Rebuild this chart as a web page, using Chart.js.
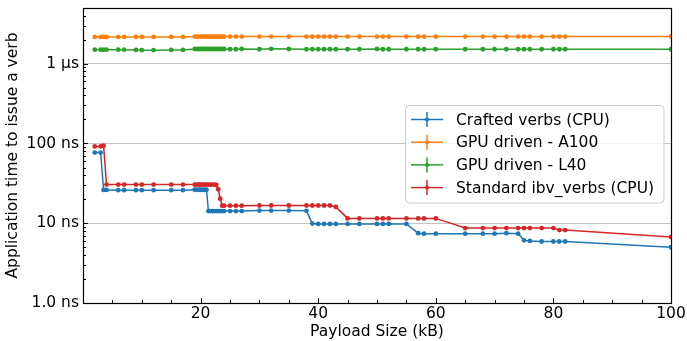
<!DOCTYPE html>
<html>
<head>
<meta charset="utf-8">
<script src="https://cdn.jsdelivr.net/npm/chart.js@4/dist/chart.umd.min.js"></script>
<style>
  html, body { margin: 0; padding: 0; background: #ffffff; }
  #wrap { width: 687px; height: 341px; }
</style>
</head>
<body>
<div id="wrap"><canvas id="chart" width="687" height="341"></canvas></div>
<script>
// Payload sizes (kB) shared by every series
const payloadKB = [2, 3, 3.5, 4, 6, 7, 9, 10, 12, 15, 17,
  19, 19.33, 19.67, 20, 20.33, 20.67, 21, 21.33, 21.67, 22, 22.33, 22.67, 23, 23.33, 23.67, 24,
  25, 26, 27, 30, 32, 35, 38,
  39, 40, 41, 42, 43, 45, 47, 50, 51, 52, 55, 57, 58, 60,
  65, 68, 70, 72, 74, 75, 76, 78, 80, 81, 82,
  100];

// Time to issue one verb, in ns
const craftedNs = [77, 77, 26.2, 26.2, 26, 26, 26, 26, 26, 26, 26,
  26.3, 26.3, 26.3, 26.3, 26.3, 26.3, 26.3, 14.2, 14.2, 14.2, 14.2, 14.2, 14.2, 14.2, 14.2, 14.2,
  14.2, 14.2, 14.2, 14.4, 14.4, 14.4, 14.3,
  9.9, 9.8, 9.8, 9.8, 9.8, 9.8, 9.8, 9.8, 9.8, 9.8, 9.8, 7.5, 7.4, 7.4,
  7.4, 7.4, 7.4, 7.5, 7.4, 6.1, 6.0, 5.9, 5.9, 5.9, 5.9,
  5.0];

const a100Ns = [2170, 2170, 2170, 2170, 2170, 2170, 2170, 2170, 2170, 2170, 2170,
  2190, 2190, 2190, 2190, 2190, 2190, 2190, 2190, 2190, 2190, 2190, 2190, 2190, 2190, 2190, 2190,
  2190, 2190, 2190, 2190, 2190, 2190, 2190,
  2190, 2190, 2190, 2190, 2190, 2190, 2190, 2190, 2190, 2190, 2190, 2190, 2190, 2190,
  2190, 2190, 2190, 2190, 2190, 2190, 2190, 2190, 2190, 2190, 2190,
  2200];

const l40Ns = [1500, 1500, 1500, 1500, 1500, 1500, 1490, 1480, 1480, 1490, 1490,
  1530, 1530, 1530, 1530, 1530, 1530, 1530, 1530, 1530, 1530, 1530, 1530, 1530, 1530, 1530, 1530,
  1520, 1520, 1530, 1520, 1540, 1530, 1520,
  1520, 1520, 1520, 1520, 1520, 1520, 1520, 1530, 1520, 1520, 1520, 1520, 1520, 1520,
  1520, 1520, 1520, 1520, 1520, 1520, 1520, 1520, 1520, 1520, 1520,
  1520];

const standardNs = [92, 92, 94, 30.5, 30.5, 30.5, 30.5, 30.5, 30.5, 30.5, 30.5,
  30.5, 30.5, 30.5, 30.5, 30.5, 30.5, 30.5, 30.5, 30.5, 30.5, 30.5, 30.3, 26.7, 20.3, 16.6, 16.6,
  16.6, 16.6, 16.6, 16.7, 16.7, 16.7, 16.7,
  16.7, 16.7, 16.7, 16.7, 16.0, 11.5, 11.5, 11.5, 11.5, 11.5, 11.5, 11.5, 11.5, 11.5,
  8.7, 8.7, 8.7, 8.7, 8.7, 8.7, 8.7, 8.7, 8.7, 8.2, 8.2,
  6.7];

const seriesNames = ['Crafted verbs (CPU)', 'GPU driven - A100', 'GPU driven - L40', 'Standard ibv_verbs (CPU)'];
const seriesColors = ['#1f77b4', '#ff7f0e', '#2ca02c', '#d62728'];

// Axis ticks
const xMajorTicks = [20, 40, 60, 80, 100];
const xMinorStep = 5;
const yMajorTicks = [1, 10, 100, 1000];
const yMajorLabels = ['1.0 ns', '10 ns', '100 ns', '1 µs'];
const yMin = 1, yMax = 5000;

const FONT = "'DejaVu Sans', 'Liberation Sans', sans-serif";
Chart.defaults.font.family = FONT;
Chart.defaults.font.size = 15.5;
Chart.defaults.color = '#000000';

function pairs(ys) { return payloadKB.map((x, i) => ({ x: x, y: ys[i] })); }
const allSeries = [craftedNs, a100Ns, l40Ns, standardNs];

const datasets = allSeries.map((ys, i) => ({
  label: seriesNames[i],
  data: pairs(ys),
  borderColor: seriesColors[i],
  backgroundColor: seriesColors[i],
  borderWidth: 1.5,
  pointRadius: 2.4,
  pointBorderWidth: 0,
  pointHoverRadius: 2.4,
  tension: 0,
  order: allSeries.length - 1 - i
}));

// log-scale tick list: decades plus 2..9 minor marks
const yTickList = [];
for (let d = 1; d <= yMax; d *= 10) {
  for (let m = 1; m <= 9; m++) {
    const v = d * m;
    if (v >= yMin && v <= yMax) yTickList.push({ value: v, major: m === 1 });
  }
}

// Frame and inward-pointing tick marks
const frameTicks = {
  id: 'frameTicks',
  afterDatasetsDraw(chart) {
    const { ctx, chartArea: a, scales } = chart;
    ctx.save();
    ctx.strokeStyle = '#000000';
    ctx.lineWidth = 1;
    yTickList.forEach(t => {
      const py = Math.round(scales.y.getPixelForValue(t.value)) + 0.5;
      const len = t.major ? 5 : 3;
      ctx.beginPath(); ctx.moveTo(a.left, py); ctx.lineTo(a.left + len, py); ctx.stroke();
    });
    for (let v = xMinorStep; v <= 100; v += xMinorStep) {
      const px = Math.round(scales.x.getPixelForValue(v)) + 0.5;
      const len = xMajorTicks.includes(v) ? 5 : 3;
      ctx.beginPath(); ctx.moveTo(px, a.bottom); ctx.lineTo(px, a.bottom - len); ctx.stroke();
    }
    ctx.lineWidth = 1.2;
    ctx.strokeRect(Math.round(a.left) + 0.5, Math.round(a.top) + 0.5,
      Math.round(a.right - a.left), Math.round(a.bottom - a.top));
    ctx.restore();
  }
};

// Legend box inside the plot, errorbar-style handles
const innerLegend = {
  id: 'innerLegend',
  afterDraw(chart) {
    const { ctx } = chart;
    const bx = 405.5, by = 105.5, bw = 258.5, bh = 97.5, r = 4;
    ctx.save();
    ctx.beginPath();
    ctx.moveTo(bx + r, by);
    ctx.arcTo(bx + bw, by, bx + bw, by + bh, r);
    ctx.arcTo(bx + bw, by + bh, bx, by + bh, r);
    ctx.arcTo(bx, by + bh, bx, by, r);
    ctx.arcTo(bx, by, bx + bw, by, r);
    ctx.closePath();
    ctx.fillStyle = 'rgba(255,255,255,0.8)';
    ctx.fill();
    ctx.strokeStyle = '#cccccc';
    ctx.lineWidth = 1;
    ctx.stroke();
    ctx.font = '15.5px ' + FONT;
    ctx.textBaseline = 'middle';
    ctx.textAlign = 'left';
    chart.data.datasets.forEach((ds, i) => {
      const cy = 119.5 + i * 22.7;
      ctx.strokeStyle = ds.borderColor;
      ctx.lineWidth = 1.5;
      ctx.beginPath(); ctx.moveTo(411, cy); ctx.lineTo(443, cy); ctx.stroke();
      ctx.beginPath(); ctx.moveTo(427, cy - 7.5); ctx.lineTo(427, cy + 7.5); ctx.stroke();
      ctx.fillStyle = ds.borderColor;
      ctx.beginPath(); ctx.arc(427, cy, 2, 0, Math.PI * 2); ctx.fill();
      ctx.fillStyle = '#000000';
      ctx.fillText(ds.label, 456, cy + 1);
    });
    ctx.restore();
  }
};

new Chart(document.getElementById('chart'), {
  type: 'line',
  data: { datasets: datasets },
  options: {
    responsive: false,
    animation: false,
    devicePixelRatio: 1,
    layout: { padding: { top: 8, right: 16, bottom: -2, left: 0 } },
    plugins: { legend: { display: false }, tooltip: { enabled: false } },
    scales: {
      x: {
        type: 'linear',
        min: 0,
        max: 100,
        grid: { display: false, drawTicks: false },
        border: { display: false },
        afterBuildTicks(scale) { scale.ticks = xMajorTicks.map(v => ({ value: v })); },
        afterFit(scale) {
          scale.height = 40;
          scale.paddingLeft = 0; scale.paddingRight = 0;
          scale.paddingTop = 0; scale.paddingBottom = 0;
        },
        ticks: { padding: 2, autoSkip: false, maxRotation: 0, callback: v => String(v) },
        title: { display: true, text: 'Payload Size (kB)', padding: { top: 0, bottom: 2 } }
      },
      y: {
        type: 'logarithmic',
        min: yMin,
        max: yMax,
        grid: {
          drawTicks: false,
          lineWidth: 1,
          color: c => (c.tick && c.tick.major) ? '#c4c4c4' : 'rgba(0,0,0,0)'
        },
        border: { display: false },
        afterBuildTicks(scale) { scale.ticks = yTickList.map(t => ({ value: t.value, major: t.major })); },
        afterFit(scale) {
          scale.width = 83;
          scale.paddingTop = 0; scale.paddingBottom = 0;
          scale.paddingLeft = 0; scale.paddingRight = 0;
        },
        ticks: {
          padding: 4,
          autoSkip: false,
          callback: (v) => {
            const k = yMajorTicks.indexOf(v);
            return k >= 0 ? yMajorLabels[k] : '';
          }
        },
        title: { display: true, text: 'Application time to issue a verb', padding: { top: 4, bottom: 0 } }
      }
    }
  },
  plugins: [frameTicks, innerLegend]
});
</script>
</body>
</html>
